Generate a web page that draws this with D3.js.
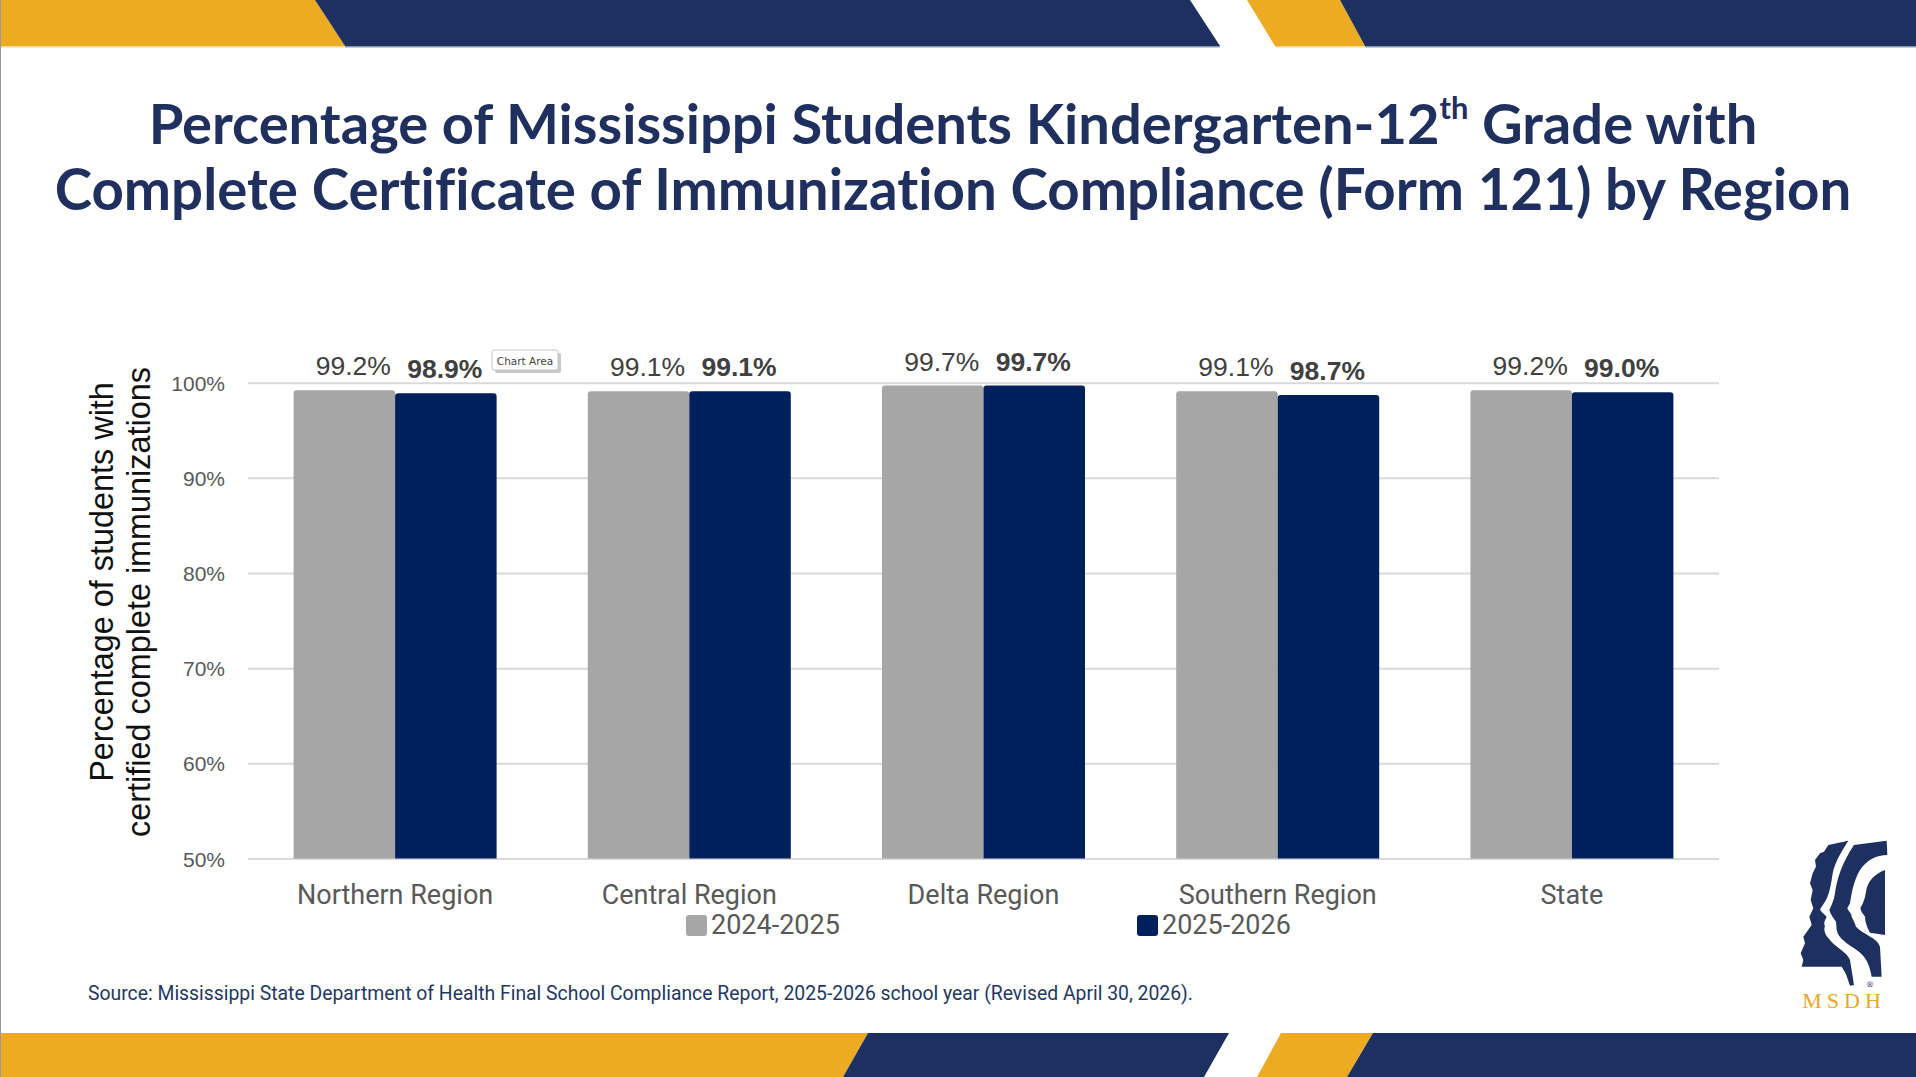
<!DOCTYPE html>
<html lang="en">
<head>
<meta charset="UTF-8">
<title>Form 121 Compliance by Region</title>
<script src="https://d3js.org/d3.v7.min.js"></script>
<style>
    html, body { margin: 0; padding: 0; background: #fff; }
    svg { display: block; }
    .grid line { stroke: #d9d9d9; stroke-width: 2; }
    .grid path { display: none; }
    .yaxis path, .xaxis path { display: none; }
    .yaxis text { font-family: "Liberation Sans", Arial, sans-serif; font-size: 21px; fill: #595959; }
    .xaxis text { font-family: Roboto, "Noto Sans", sans-serif; font-size: 27px; fill: #595959; }
</style>
</head>
<body>
<svg id="chart" width="1916" height="1077"></svg>
<script>
// chart values
const regions = ["Northern Region", "Central Region", "Delta Region", "Southern Region", "State"];
const seriesNames = ["2024-2025", "2025-2026"];
const values2425 = [99.2, 99.1, 99.7, 99.1, 99.2];
const values2526 = [98.9, 99.1, 99.7, 98.7, 99.0];
const yTicks = [50, 60, 70, 80, 90, 100];

const seriesColors = { "2024-2025": "#a6a6a6", "2025-2026": "#00205b" };
const navy = "#1e3060", gold = "#ecab22";

const W = 1916, H = 1077;
const plot = { left: 248, right: 1719, top: 382.7, bottom: 858.5 };

const svg = d3.select("#chart");

// banners
const banner = svg.append("g");
const topBars = [
    { c: gold, p: [[0,0],[315,0],[345,46],[0,46]] },
    { c: navy, p: [[315,0],[1190,0],[1220,46],[345,46]] },
    { c: gold, p: [[1247,0],[1340,0],[1365,46],[1275,46]] },
    { c: navy, p: [[1340,0],[W,0],[W,46],[1365,46]] }
];
const botBars = [
    { c: gold, p: [[0,1033],[868,1033],[843,H],[0,H]] },
    { c: navy, p: [[868,1033],[1229,1033],[1204,H],[843,H]] },
    { c: gold, p: [[1281,1033],[1373,1033],[1347,H],[1257,H]] },
    { c: navy, p: [[1373,1033],[W,1033],[W,H],[1347,H]] }
];
banner.selectAll("polygon")
    .data(topBars.concat(botBars))
    .join("polygon")
    .attr("points", d => d.p.map(q => q.join(",")).join(" "))
    .attr("fill", d => d.c);
// thin light edge under the top banner
banner.append("rect").attr("x", 0).attr("y", 46).attr("width", 345).attr("height", 1.5).attr("fill", "#f6d98f");
banner.append("rect").attr("x", 345).attr("y", 46).attr("width", 875).attr("height", 1.5).attr("fill", "#8c97b3");
banner.append("rect").attr("x", 1275).attr("y", 46).attr("width", 90).attr("height", 1.5).attr("fill", "#f6d98f");
banner.append("rect").attr("x", 1365).attr("y", 46).attr("width", W - 1365).attr("height", 1.5).attr("fill", "#8c97b3");
svg.append("line").attr("x1", 0.5).attr("x2", 0.5).attr("y1", 0).attr("y2", H)
    .attr("stroke", "#9a9a9a").attr("stroke-width", 1);

function fitWidth(sel, target) {
    const fs = parseFloat(sel.attr("font-size"));
    const w = sel.node().getComputedTextLength();
    sel.attr("font-size", fs * target / w);
}

// title
const t1 = svg.append("text")
    .attr("x", 953).attr("y", 144)
    .attr("text-anchor", "middle")
    .attr("font-family", "Lato, 'Open Sans', sans-serif")
    .attr("font-weight", 700)
    .attr("font-size", 54)
    .style("font-variant-ligatures", "none")
    .attr("fill", "#1f2f5e");
t1.append("tspan").text("Percentage of Mississippi Students Kindergarten-12");
t1.append("tspan").text("th").style("font-size", "0.55em").attr("dy", "-0.8em");
t1.append("tspan").text(" Grade with").attr("dy", "0.44em");
fitWidth(t1, 1609);

const t2 = svg.append("text")
    .attr("x", 953).attr("y", 210)
    .attr("text-anchor", "middle")
    .attr("font-family", "Lato, 'Open Sans', sans-serif")
    .attr("font-weight", 700)
    .attr("font-size", 54)
    .style("font-variant-ligatures", "none")
    .attr("fill", "#1f2f5e")
    .text("Complete Certificate of Immunization Compliance (Form 121) by Region");
fitWidth(t2, 1797);

// scales
const x = d3.scaleBand()
    .domain(regions)
    .range([plot.left, plot.right])
    .paddingInner(0.31)
    .paddingOuter(0.155);

const xSub = d3.scaleBand()
    .domain(seriesNames)
    .range([0, x.bandwidth()]);

const y = d3.scaleLinear()
    .domain([50, 100])
    .range([plot.bottom, plot.top]);

// gridlines
svg.append("g")
    .attr("class", "grid")
    .attr("transform", `translate(${plot.left},0)`)
    .call(d3.axisLeft(y).tickValues(yTicks).tickSize(-(plot.right - plot.left)).tickFormat(""));

// y axis labels
svg.append("g")
    .attr("class", "yaxis")
    .attr("transform", `translate(${plot.left},0)`)
    .call(d3.axisLeft(y).tickValues(yTicks).tickSize(0).tickPadding(23).tickFormat(d => d + "%"))
    .selectAll("text").attr("dy", "0.36em");

// bars
const rows = regions.map((r, i) => ({
    region: r,
    vals: [
        { s: seriesNames[0], v: values2425[i] },
        { s: seriesNames[1], v: values2526[i] }
    ]
}));

function topRounded(x0, y0, w, h, r) {
    return `M${x0},${y0 + h}V${y0 + r}Q${x0},${y0} ${x0 + r},${y0}H${x0 + w - r}Q${x0 + w},${y0} ${x0 + w},${y0 + r}V${y0 + h}Z`;
}

const groups = svg.append("g").selectAll("g")
    .data(rows)
    .join("g")
    .attr("transform", d => `translate(${x(d.region)},0)`);

groups.selectAll("path")
    .data(d => d.vals)
    .join("path")
    .attr("d", d => topRounded(xSub(d.s), y(d.v), xSub.bandwidth(), y(50) - y(d.v), 3))
    .attr("fill", d => seriesColors[d.s]);

groups.selectAll("text")
    .data(d => d.vals)
    .join("text")
    .attr("x", (d, i) => xSub(d.s) + xSub.bandwidth() / 2 + (i === 0 ? 9 : -1))
    .attr("y", d => y(d.v) - 15)
    .attr("text-anchor", "middle")
    .attr("font-family", "'Liberation Sans', Arial, sans-serif")
    .attr("font-size", 26.5)
    .attr("font-weight", (d, i) => i === 1 ? 700 : 400)
    .attr("fill", "#404040")
    .text(d => d3.format(".1f")(d.v) + "%");

// x axis labels
svg.append("g")
    .attr("class", "xaxis")
    .attr("transform", `translate(0,${plot.bottom})`)
    .call(d3.axisBottom(x).tickSize(0).tickPadding(0))
    .selectAll("text").attr("dy", null).attr("y", 45);

// y axis title
const yTitle = svg.append("g").attr("font-family", "'Liberation Sans', Arial, sans-serif").attr("fill", "#111");
const yt1 = yTitle.append("text")
    .attr("transform", "translate(113,582) rotate(-90)")
    .attr("text-anchor", "middle").attr("font-size", 26)
    .text("Percentage of students with");
const yt2 = yTitle.append("text")
    .attr("transform", "translate(150,602) rotate(-90)")
    .attr("text-anchor", "middle").attr("font-size", 26)
    .text("certified complete immunizations");
fitWidth(yt2, 470);
yt1.attr("font-size", yt2.attr("font-size"));

// legend
const legendX = [686, 1137];
const legend = svg.append("g").selectAll("g")
    .data(seriesNames)
    .join("g")
    .attr("transform", (d, i) => `translate(${legendX[i]},915)`);
legend.append("rect")
    .attr("width", 21).attr("height", 21).attr("rx", 3)
    .attr("fill", d => seriesColors[d]);
legend.append("text")
    .attr("x", 25).attr("y", 19)
    .attr("font-family", "Roboto, 'Noto Sans', sans-serif")
    .attr("font-size", 27)
    .attr("fill", "#595959")
    .text(d => d);

// source
const src = svg.append("text")
    .attr("x", 88).attr("y", 1000)
    .attr("font-family", "Roboto, 'Noto Sans', sans-serif")
    .attr("font-size", 17)
    .attr("fill", "#1f3864")
    .text("Source: Mississippi State Department of Health Final School Compliance Report, 2025-2026 school year (Revised April 30, 2026).");
fitWidth(src, 1105);

// "Chart Area" tooltip from the screenshot
const tip = svg.append("g").attr("transform", "translate(492,350)");
tip.append("rect").attr("x", 3).attr("y", 3).attr("width", 66).attr("height", 20).attr("rx", 2).attr("fill", "#c8c8c8");
tip.append("rect").attr("width", 66).attr("height", 20).attr("rx", 2)
    .attr("fill", "#fff").attr("stroke", "#c4c4c4");
tip.append("text").attr("x", 33).attr("y", 14.5).attr("text-anchor", "middle")
    .attr("font-family", "'DejaVu Sans', sans-serif").attr("font-size", 10.5).attr("fill", "#444")
    .text("Chart Area");

// MSDH logo
const logo = svg.append("g").attr("transform", "translate(1770,820) scale(0.3333)");
logo.append("path").attr("fill", navy).attr("d",
    "M175,75 L235,62 C215,95 195,125 188,160 C183,195 178,225 165,245 L150,268 C155,280 168,285 170,292 " +
    "C165,300 160,310 165,318 C160,330 165,345 180,360 C200,385 230,395 240,420 L252,495 L240,497 L228,462 " +
    "L215,440 L95,440 L100,420 L92,400 L105,370 L100,350 L125,315 L118,290 L130,265 L122,240 L128,210 " +
    "L120,190 L128,160 L138,140 L135,120 L150,100 L162,95 Z");
logo.append("path").attr("fill", navy).attr("d",
    "M252,75 L350,62 L352,105 C320,105 290,120 270,150 C250,185 245,220 240,250 L232,265 C236,275 245,280 245,290 " +
    "C250,300 255,310 258,320 C280,345 320,350 330,380 L335,470 L305,470 C300,440 290,410 260,390 " +
    "C230,370 205,355 200,330 L198,305 C192,295 182,285 178,270 C185,255 192,240 195,220 C200,180 215,130 252,75 Z");
logo.append("path").attr("fill", navy).attr("d",
    "M345,150 L345,345 L300,338 C290,320 285,305 285,290 C278,280 270,272 272,262 C280,250 285,235 288,215 " +
    "C292,185 315,160 345,150 Z");
logo.append("text").attr("x", 300).attr("y", 500).attr("text-anchor", "middle")
    .attr("font-family", "'DejaVu Sans', sans-serif").attr("font-size", 24).attr("fill", navy).text("\u00AE");
svg.append("text").attr("x", 1844).attr("y", 1008).attr("text-anchor", "middle")
    .attr("font-family", "'Liberation Serif', serif").attr("font-size", 22)
    .attr("letter-spacing", 5).attr("fill", "#e9a825").text("MSDH");
</script>
</body>
</html>
